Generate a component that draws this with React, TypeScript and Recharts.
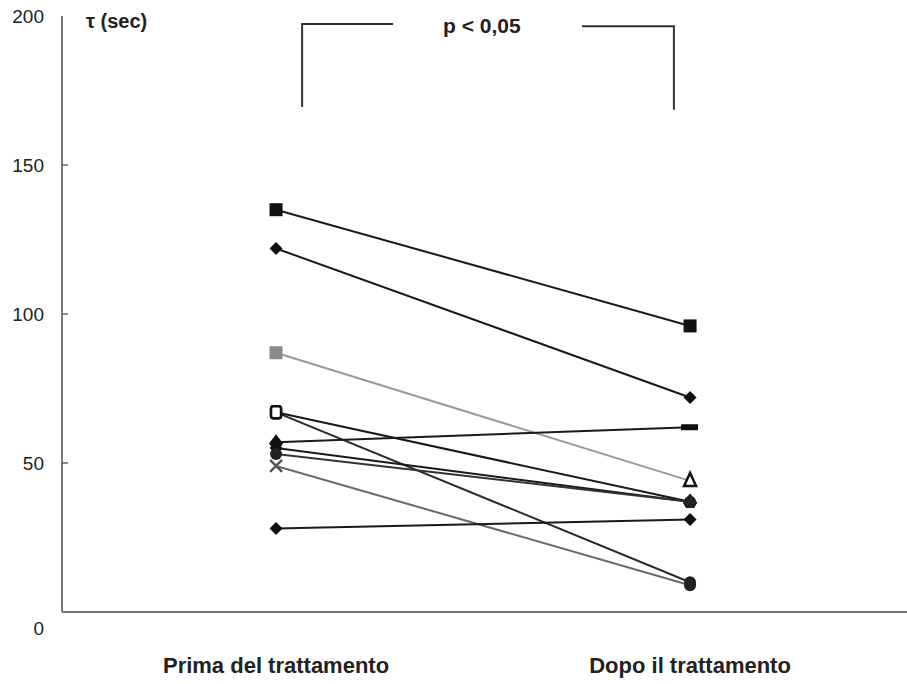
import React from 'react';
import { LineChart, Line, XAxis, YAxis } from 'recharts';

const categories = ['Prima del trattamento', 'Dopo il trattamento'];
const yTicks = [0, 50, 100, 150, 200];

// tau (sec) per patient, before / after
const before = [135, 122, 87, 67, 67, 57, 55, 53, 49, 28];
const after = [96, 72, 44, 37, 10, 62, 37, 37, 9, 31];

const markersBefore = ['square', 'diamond', 'greySquare', 'openSquare', 'openSquare', 'star', 'diamond', 'circle', 'cross', 'diamond'];
const markersAfter = ['square', 'diamond', 'openTriangle', 'star', 'circle', 'dash', 'star', 'circle', 'circle', 'diamond'];
const lineColors = ['#1a1a1a', '#1a1a1a', '#9a9a9a', '#1a1a1a', '#2a2a2a', '#1a1a1a', '#1a1a1a', '#333', '#6a6a6a', '#1a1a1a'];

// significance bracket, in data units
const bracketLeft = [{ x: 0.063, y: 169.5 }, { x: 0.063, y: 197.3 }, { x: 0.283, y: 197.3 }];
const bracketRight = [{ x: 0.739, y: 196.6 }, { x: 0.961, y: 196.6 }, { x: 0.961, y: 168.5 }];

const FONT = '"Liberation Sans", Arial, sans-serif';

const Marker = ({ cx, cy, kind }: { cx: number; cy: number; kind: string }) => {
  if (cx == null || cy == null) return null;
  switch (kind) {
    case 'square':
      return <rect x={cx - 6.5} y={cy - 6.5} width={13} height={13} fill="#111" />;
    case 'greySquare':
      return <rect x={cx - 6.5} y={cy - 6.5} width={13} height={13} fill="#8a8a8a" />;
    case 'openSquare':
      return <rect x={cx - 5} y={cy - 6} width={10} height={12} rx={2.5} fill="#fff" stroke="#111" strokeWidth={2.5} />;
    case 'diamond':
      return <polygon points={`${cx},${cy - 6.5} ${cx + 6.5},${cy} ${cx},${cy + 6.5} ${cx - 6.5},${cy}`} fill="#111" />;
    case 'openTriangle':
      return <polygon points={`${cx},${cy - 8} ${cx + 6},${cy + 5} ${cx - 6},${cy + 5}`} fill="#fff" stroke="#111" strokeWidth={2.5} />;
    case 'star':
      return <polygon points={`${cx},${cy - 8} ${cx + 7},${cy + 1} ${cx + 4},${cy + 6} ${cx - 4},${cy + 6} ${cx - 7},${cy + 1}`} fill="#111" />;
    case 'dash':
      return <rect x={cx - 9} y={cy - 3} width={17} height={6} fill="#111" />;
    case 'circle':
      return <circle cx={cx} cy={cy} r={6} fill="#222" />;
    case 'cross':
      return (
        <g stroke="#555" strokeWidth={2.5}>
          <line x1={cx - 6} y1={cy - 6} x2={cx + 6} y2={cy + 6} />
          <line x1={cx - 6} y1={cy + 6} x2={cx + 6} y2={cy - 6} />
        </g>
      );
    default:
      return null;
  }
};

const YTick = (props: any) => {
  const { x, y, payload } = props;
  const v = payload.value;
  return (
    <g>
      {v !== 0 && v !== 200 && <line x1={x} y1={y} x2={x + 6} y2={y} stroke="#666" strokeWidth={1.5} />}
      <text x={x - 18} y={v === 0 ? y + 23 : y + 7} textAnchor="end" fontSize={19} fontFamily={FONT} fill="#222">
        {v}
      </text>
    </g>
  );
};

const XTick = (props: any) => {
  const { x, y, payload } = props;
  return (
    <text x={x} y={y + 61} textAnchor="middle" fontSize={22} fontWeight="bold" fontFamily={FONT} fill="#222">
      {categories[payload.value]}
    </text>
  );
};

export default function App() {
  const series = before.map((b, i) => [
    { x: 0, y: b },
    { x: 1, y: after[i] },
  ]);

  return (
    <div style={{ position: 'absolute', left: 0, top: 0, width: 907, height: 684, background: '#fff' }}>
      <LineChart width={907} height={684} margin={{ top: 16, right: 0, bottom: 0, left: 0 }}>
        <XAxis
          dataKey="x"
          type="number"
          domain={[-0.517, 1.524]}
          ticks={[0, 1]}
          allowDataOverflow
          axisLine={{ stroke: '#777', strokeWidth: 2 }}
          tickLine={false}
          tickSize={0}
          tickMargin={0}
          height={72}
          tick={<XTick />}
        />
        <YAxis
          type="number"
          domain={[0, 200]}
          ticks={yTicks}
          width={62}
          axisLine={{ stroke: '#777', strokeWidth: 2 }}
          tickLine={false}
          tickSize={0}
          tickMargin={0}
          tick={<YTick />}
        />
        <Line data={bracketLeft} dataKey="y" stroke="#333" strokeWidth={2} dot={false} isAnimationActive={false} />
        <Line data={bracketRight} dataKey="y" stroke="#333" strokeWidth={2} dot={false} isAnimationActive={false} />
        {series.map((d, i) => (
          <Line
            key={i}
            data={d}
            dataKey="y"
            stroke={lineColors[i]}
            strokeWidth={2}
            isAnimationActive={false}
            dot={(p: any) => (
              <Marker key={`m-${i}-${p.index}`} cx={p.cx} cy={p.cy} kind={p.index === 0 ? markersBefore[i] : markersAfter[i]} />
            )}
            activeDot={false}
          />
        ))}
      </LineChart>
      <div style={{ position: 'absolute', left: 86, top: 10, fontFamily: FONT, fontWeight: 'bold', fontSize: 20, color: '#222' }}>
        τ (sec)
      </div>
      <div style={{ position: 'absolute', left: 443, top: 14, fontFamily: FONT, fontWeight: 'bold', fontSize: 21, color: '#222' }}>
        p &lt; 0,05
      </div>
    </div>
  );
}
